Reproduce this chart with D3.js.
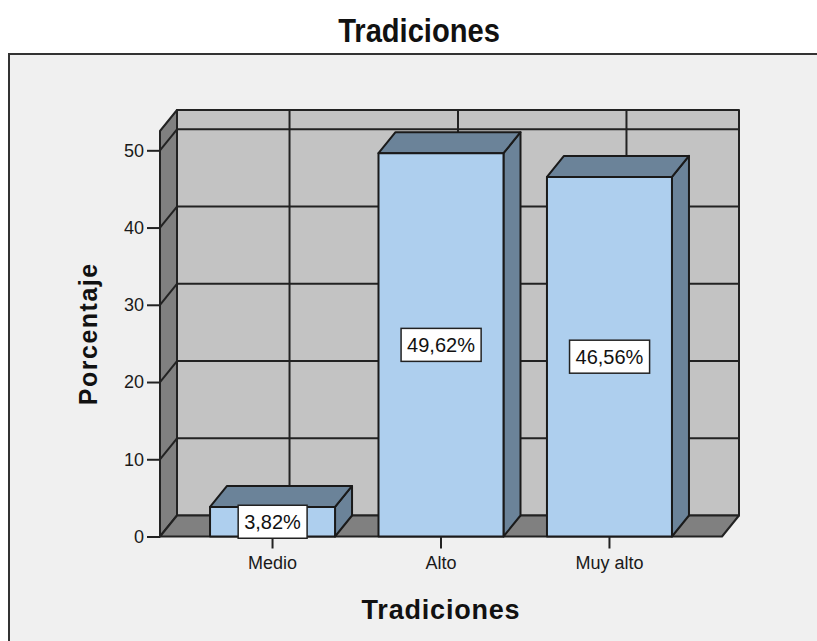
<!DOCTYPE html>
<html>
<head>
<meta charset="utf-8">
<script src="https://cdn.jsdelivr.net/npm/d3@7"></script>
<style>
  body { margin: 0; background: #fff; }
  svg { display: block; font-family: "Liberation Sans", Arial, sans-serif; }
</style>
</head>
<body>
<svg id="chart" width="817" height="641"></svg>
<script>
// data
const categories = ["Medio", "Alto", "Muy alto"];
const percentages = [3.82, 49.62, 46.56];
const yTicks = [0, 10, 20, 30, 40, 50];
const yMax = 52.5;

const chartTitle = "Tradiciones";
const xTitle = "Tradiciones";
const yTitle = "Porcentaje";

// spanish number format: 49,62%
const es = d3.formatLocale({ decimal: ",", thousands: ".", grouping: [3], currency: ["", " €"] });
const fmt = v => es.format(".2f")(v) + "%";

const svg = d3.select("#chart");

// pseudo 3D depth offset
const dx = 17, dy = -21;
const plotLeft = 160, plotRight = 722, plotBottom = 536.5, plotTop = 131;

const x = d3.scaleBand()
  .domain(categories)
  .range([plotLeft, plotRight])
  .paddingInner(0.258)
  .paddingOuter(0.297);

const y = d3.scaleLinear()
  .domain([0, yMax])
  .range([plotBottom, plotTop]);

const line = d3.line();

// outer frame
svg.append("rect")
  .attr("x", 9).attr("y", 54)
  .attr("width", 830).attr("height", 620)
  .attr("fill", "#f0f0f0")
  .attr("stroke", "#333").attr("stroke-width", 2);

svg.append("text")
  .attr("transform", "translate(419,42) scale(0.97,1.08)")
  .attr("text-anchor", "middle")
  .attr("font-size", 30).attr("font-weight", "bold")
  .attr("fill", "#111")
  .text(chartTitle);

const frame = svg.append("g")
  .attr("stroke", "#222")
  .attr("stroke-width", 2)
  .attr("stroke-linejoin", "round");

// back wall
frame.append("path")
  .attr("d", line([[plotLeft + dx, plotTop + dy], [plotRight + dx, plotTop + dy], [plotRight + dx, plotBottom + dy], [plotLeft + dx, plotBottom + dy]]) + "Z")
  .attr("fill", "#c3c3c3");

// grid on back wall
yTicks.filter(d => d > 0).forEach(function (v) {
  frame.append("path")
    .attr("d", line([[plotLeft + dx, y(v) + dy], [plotRight + dx, y(v) + dy]]))
    .attr("fill", "none");
});
categories.forEach(function (c) {
  let cx = x(c) + x.bandwidth() / 2 + dx;
  frame.append("path")
    .attr("d", line([[cx, plotTop + dy], [cx, plotBottom + dy]]))
    .attr("fill", "none");
});

// left wall
frame.append("path")
  .attr("d", line([[plotLeft, plotBottom], [plotLeft, plotTop], [plotLeft + dx, plotTop + dy], [plotLeft + dx, plotBottom + dy]]) + "Z")
  .attr("fill", "#808080");

// diagonals over left wall
yTicks.filter(d => d > 0).forEach(function (v) {
  frame.append("path")
    .attr("d", line([[plotLeft, y(v)], [plotLeft + dx, y(v) + dy]]))
    .attr("fill", "none");
});

// floor
frame.append("path")
  .attr("d", line([[plotLeft, plotBottom], [plotRight, plotBottom], [plotRight + dx, plotBottom + dy], [plotLeft + dx, plotBottom + dy]]) + "Z")
  .attr("fill", "#808080");

// bars
const bars = svg.append("g")
  .attr("stroke", "#1a1a1a")
  .attr("stroke-width", 2)
  .attr("stroke-linejoin", "round")
  .selectAll("g")
  .data(percentages)
  .join("g");

bars.append("path")
  .attr("fill", "#6b8399")
  .attr("d", (d, i) => {
    let x0 = x(categories[i]), x1 = x0 + x.bandwidth();
    return line([[x1, y(d)], [x1 + dx, y(d) + dy], [x1 + dx, y(0) + dy], [x1, y(0)]]) + "Z";
  });

bars.append("path")
  .attr("fill", "#6b8399")
  .attr("d", (d, i) => {
    let x0 = x(categories[i]), x1 = x0 + x.bandwidth();
    return line([[x0, y(d)], [x1, y(d)], [x1 + dx, y(d) + dy], [x0 + dx, y(d) + dy]]) + "Z";
  });

bars.append("rect")
  .attr("fill", "#aecfee")
  .attr("x", (d, i) => x(categories[i]))
  .attr("y", d => y(d))
  .attr("width", x.bandwidth())
  .attr("height", d => y(0) - y(d));

// y axis
const yAxis = svg.append("g")
  .attr("transform", `translate(${plotLeft},0)`)
  .call(d3.axisLeft(y).tickValues(yTicks).tickSize(13).tickSizeOuter(0).tickPadding(3));
yAxis.select(".domain").remove();
yAxis.selectAll(".tick line").attr("stroke", "#222").attr("stroke-width", 2);
yAxis.selectAll(".tick text")
  .attr("font-size", 18).attr("fill", "#1a1a1a")
  .attr("font-family", "Liberation Sans, Arial, sans-serif");

// x axis
const xAxis = svg.append("g")
  .attr("transform", `translate(0,${plotBottom})`)
  .call(d3.axisBottom(x).tickSize(12).tickSizeOuter(0).tickPadding(8));
xAxis.select(".domain").remove();
xAxis.selectAll(".tick line").attr("stroke", "#222").attr("stroke-width", 2);
xAxis.selectAll(".tick text")
  .attr("font-size", 18).attr("fill", "#1a1a1a")
  .attr("font-family", "Liberation Sans, Arial, sans-serif");

// value labels in the middle of the bar fronts
const labels = svg.append("g").selectAll("g")
  .data(percentages)
  .join("g")
  .attr("transform", (d, i) => `translate(${x(categories[i]) + x.bandwidth() / 2},${(y(d) + y(0)) / 2})`);

labels.append("text")
  .attr("text-anchor", "middle")
  .attr("dy", "0.36em")
  .attr("font-size", 20)
  .attr("fill", "#111")
  .text(d => fmt(d));

labels.each(function () {
  let g = d3.select(this);
  let bb = g.select("text").node().getBBox();
  g.insert("rect", "text")
    .attr("x", bb.x - 6).attr("y", -16.5)
    .attr("width", bb.width + 12).attr("height", 33)
    .attr("fill", "#fff")
    .attr("stroke", "#222").attr("stroke-width", 1.5);
});

// axis titles
svg.append("text")
  .attr("transform", `translate(97,${(plotTop + plotBottom) / 2}) rotate(-90)`)
  .attr("text-anchor", "middle")
  .attr("font-size", 25).attr("font-weight", "bold")
  .attr("letter-spacing", 1.5)
  .attr("fill", "#111")
  .text(yTitle);

svg.append("text")
  .attr("x", (plotLeft + plotRight) / 2).attr("y", 619)
  .attr("text-anchor", "middle")
  .attr("font-size", 27).attr("font-weight", "bold")
  .attr("letter-spacing", 0.8)
  .attr("fill", "#111")
  .text(xTitle);
</script>
</body>
</html>
